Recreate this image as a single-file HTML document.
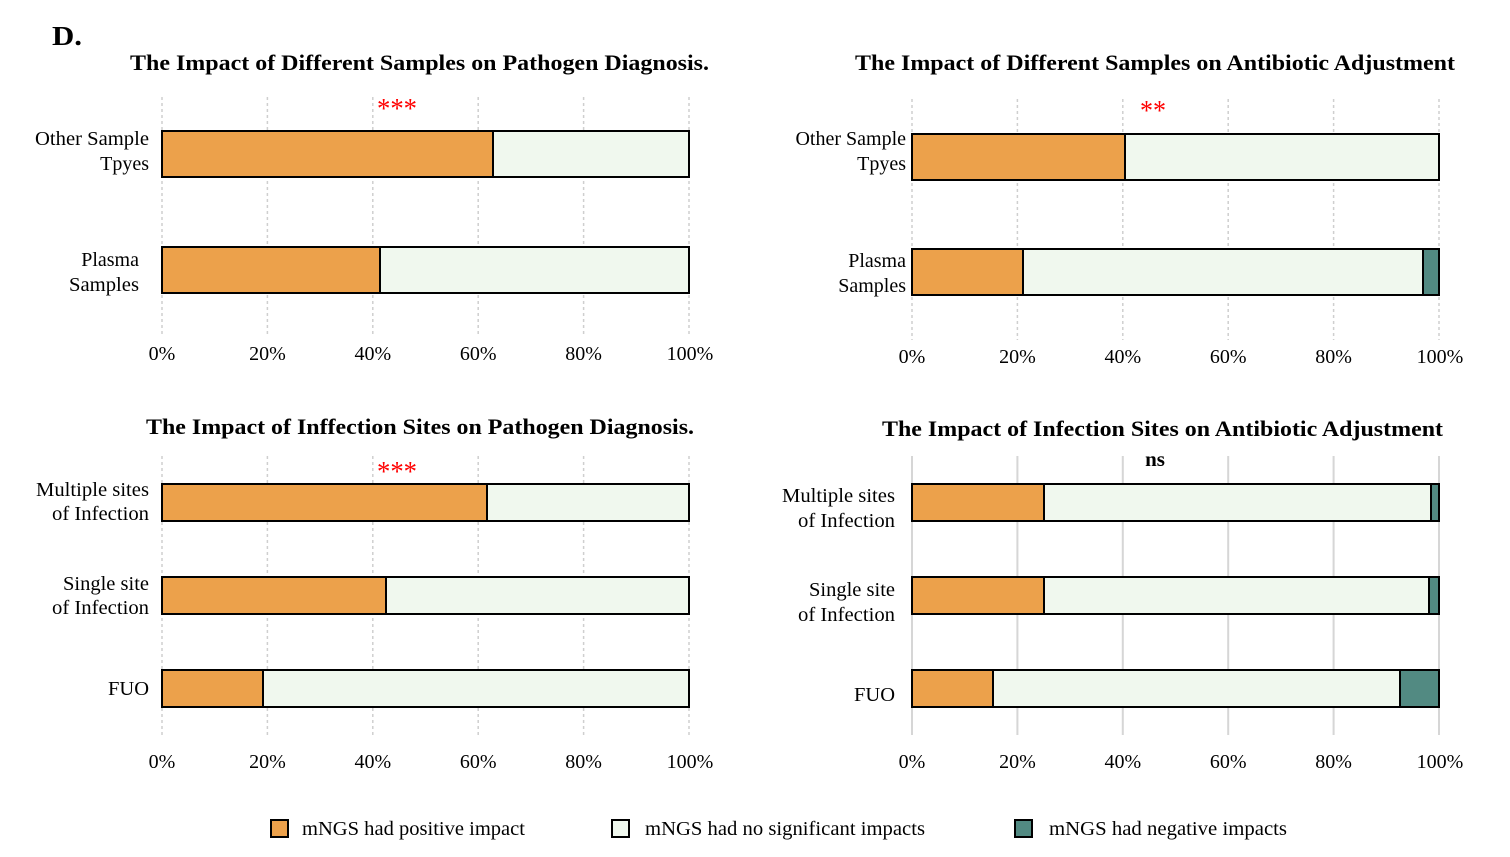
<!DOCTYPE html>
<html><head><meta charset="utf-8"><style>
html,body{margin:0;padding:0;background:#fff;}
svg{display:block;font-family:"Liberation Serif",serif;}
</style></head><body>
<svg width="1510" height="857" viewBox="0 0 1510 857" xmlns="http://www.w3.org/2000/svg">
<rect width="1510" height="857" fill="#fff"/>
<text x="52" y="45" font-size="27" font-weight="bold" textLength="30" lengthAdjust="spacingAndGlyphs">D.</text>

<!-- Panel 1 -->
<text x="130" y="70" font-size="22" font-weight="bold" textLength="579" lengthAdjust="spacingAndGlyphs">The Impact of Different Samples on Pathogen Diagnosis.</text>
<g stroke="#cfcfcf" stroke-width="1.5" stroke-dasharray="3,3">
<line x1="162" y1="97" x2="162" y2="335"/><line x1="267.4" y1="97" x2="267.4" y2="335"/><line x1="372.8" y1="97" x2="372.8" y2="335"/><line x1="478.2" y1="97" x2="478.2" y2="335"/><line x1="583.6" y1="97" x2="583.6" y2="335"/><line x1="689" y1="97" x2="689" y2="335"/>
</g>
<text x="397" y="118" font-size="28" fill="#ff0000" text-anchor="middle" textLength="40" lengthAdjust="spacingAndGlyphs">***</text>
<g stroke="#000" stroke-width="2">
<rect x="162" y="131" width="331" height="46" fill="#eca14b"/><rect x="493" y="131" width="196" height="46" fill="#f0f8ee"/>
<rect x="162" y="247" width="218" height="46" fill="#eca14b"/><rect x="380" y="247" width="309" height="46" fill="#f0f8ee"/>
</g>
<g font-size="20" text-anchor="end">
<text x="149" y="145" textLength="114" lengthAdjust="spacingAndGlyphs">Other Sample</text>
<text x="149" y="170">Tpyes</text>
<text x="139" y="266">Plasma</text>
<text x="139" y="291" textLength="70" lengthAdjust="spacingAndGlyphs">Samples</text>
</g>
<g font-size="20" text-anchor="middle">
<text x="162" y="360">0%</text><text x="267.4" y="360">20%</text><text x="372.8" y="360">40%</text><text x="478.2" y="360">60%</text><text x="583.6" y="360">80%</text><text x="690" y="360">100%</text>
</g>

<!-- Panel 2 -->
<text x="855" y="70" font-size="22" font-weight="bold" textLength="600" lengthAdjust="spacingAndGlyphs">The Impact of Different Samples on Antibiotic Adjustment</text>
<g stroke="#cfcfcf" stroke-width="1.5" stroke-dasharray="3,3">
<line x1="912" y1="99" x2="912" y2="340"/><line x1="1017.4" y1="99" x2="1017.4" y2="340"/><line x1="1122.8" y1="99" x2="1122.8" y2="340"/><line x1="1228.2" y1="99" x2="1228.2" y2="340"/><line x1="1333.6" y1="99" x2="1333.6" y2="340"/><line x1="1439" y1="99" x2="1439" y2="340"/>
</g>
<text x="1153" y="120" font-size="28" fill="#ff0000" text-anchor="middle" textLength="26" lengthAdjust="spacingAndGlyphs">**</text>
<g stroke="#000" stroke-width="2">
<rect x="912" y="134" width="213" height="46" fill="#eca14b"/><rect x="1125" y="134" width="314" height="46" fill="#f0f8ee"/>
<rect x="912" y="249" width="111" height="46" fill="#eca14b"/><rect x="1023" y="249" width="400" height="46" fill="#f0f8ee"/><rect x="1423" y="249" width="16" height="46" fill="#528a82"/>
</g>
<g font-size="20" text-anchor="end">
<text x="906" y="145">Other Sample</text>
<text x="906" y="170">Tpyes</text>
<text x="906" y="267">Plasma</text>
<text x="906" y="292">Samples</text>
</g>
<g font-size="20" text-anchor="middle">
<text x="912" y="363">0%</text><text x="1017.4" y="363">20%</text><text x="1122.8" y="363">40%</text><text x="1228.2" y="363">60%</text><text x="1333.6" y="363">80%</text><text x="1440" y="363">100%</text>
</g>

<!-- Panel 3 -->
<text x="146" y="434" font-size="22" font-weight="bold" textLength="548" lengthAdjust="spacingAndGlyphs">The Impact of Inffection Sites on Pathogen Diagnosis.</text>
<g stroke="#cfcfcf" stroke-width="1.5" stroke-dasharray="3,3">
<line x1="162" y1="456" x2="162" y2="735"/><line x1="267.4" y1="456" x2="267.4" y2="735"/><line x1="372.8" y1="456" x2="372.8" y2="735"/><line x1="478.2" y1="456" x2="478.2" y2="735"/><line x1="583.6" y1="456" x2="583.6" y2="735"/><line x1="689" y1="456" x2="689" y2="735"/>
</g>
<text x="397" y="481" font-size="28" fill="#ff0000" text-anchor="middle" textLength="40" lengthAdjust="spacingAndGlyphs">***</text>
<g stroke="#000" stroke-width="2">
<rect x="162" y="484" width="325" height="37" fill="#eca14b"/><rect x="487" y="484" width="202" height="37" fill="#f0f8ee"/>
<rect x="162" y="577" width="224" height="37" fill="#eca14b"/><rect x="386" y="577" width="303" height="37" fill="#f0f8ee"/>
<rect x="162" y="670" width="101" height="37" fill="#eca14b"/><rect x="263" y="670" width="426" height="37" fill="#f0f8ee"/>
</g>
<g font-size="20" text-anchor="end">
<text x="149" y="496" textLength="113" lengthAdjust="spacingAndGlyphs">Multiple sites</text>
<text x="149" y="520" textLength="97" lengthAdjust="spacingAndGlyphs">of Infection</text>
<text x="149" y="590" textLength="86" lengthAdjust="spacingAndGlyphs">Single site</text>
<text x="149" y="614" textLength="97" lengthAdjust="spacingAndGlyphs">of Infection</text>
<text x="149" y="695" textLength="41" lengthAdjust="spacingAndGlyphs">FUO</text>
</g>
<g font-size="20" text-anchor="middle">
<text x="162" y="768">0%</text><text x="267.4" y="768">20%</text><text x="372.8" y="768">40%</text><text x="478.2" y="768">60%</text><text x="583.6" y="768">80%</text><text x="690" y="768">100%</text>
</g>

<!-- Panel 4 -->
<text x="882" y="436" font-size="22" font-weight="bold" textLength="561" lengthAdjust="spacingAndGlyphs">The Impact of Infection Sites on Antibiotic Adjustment</text>
<g stroke="#d6d6d6" stroke-width="2">
<line x1="912" y1="456" x2="912" y2="735"/><line x1="1017.4" y1="456" x2="1017.4" y2="735"/><line x1="1122.8" y1="456" x2="1122.8" y2="735"/><line x1="1228.2" y1="456" x2="1228.2" y2="735"/><line x1="1333.6" y1="456" x2="1333.6" y2="735"/><line x1="1439" y1="456" x2="1439" y2="735"/>
</g>
<rect x="1138" y="448" width="34" height="22" fill="#fff"/>
<text x="1155" y="466" font-size="21" font-weight="bold" text-anchor="middle">ns</text>
<g stroke="#000" stroke-width="2">
<rect x="912" y="484" width="132" height="37" fill="#eca14b"/><rect x="1044" y="484" width="387" height="37" fill="#f0f8ee"/><rect x="1431" y="484" width="8" height="37" fill="#528a82"/>
<rect x="912" y="577" width="132" height="37" fill="#eca14b"/><rect x="1044" y="577" width="385" height="37" fill="#f0f8ee"/><rect x="1429" y="577" width="10" height="37" fill="#528a82"/>
<rect x="912" y="670" width="81" height="37" fill="#eca14b"/><rect x="993" y="670" width="407" height="37" fill="#f0f8ee"/><rect x="1400" y="670" width="39" height="37" fill="#528a82"/>
</g>
<g font-size="20" text-anchor="end">
<text x="895" y="502" textLength="113" lengthAdjust="spacingAndGlyphs">Multiple sites</text>
<text x="895" y="527" textLength="97" lengthAdjust="spacingAndGlyphs">of Infection</text>
<text x="895" y="596" textLength="86" lengthAdjust="spacingAndGlyphs">Single site</text>
<text x="895" y="621" textLength="97" lengthAdjust="spacingAndGlyphs">of Infection</text>
<text x="895" y="701" textLength="41" lengthAdjust="spacingAndGlyphs">FUO</text>
</g>
<g font-size="20" text-anchor="middle">
<text x="912" y="768">0%</text><text x="1017.4" y="768">20%</text><text x="1122.8" y="768">40%</text><text x="1228.2" y="768">60%</text><text x="1333.6" y="768">80%</text><text x="1440" y="768">100%</text>
</g>

<!-- Legend -->
<g stroke="#000" stroke-width="2">
<rect x="271" y="820" width="17" height="17" fill="#eca14b"/>
<rect x="612" y="820" width="17" height="17" fill="#f0f8ee"/>
<rect x="1015" y="820" width="17" height="17" fill="#528a82"/>
</g>
<g font-size="20">
<text x="302" y="835" textLength="223" lengthAdjust="spacingAndGlyphs">mNGS had positive impact</text>
<text x="645" y="835" textLength="280" lengthAdjust="spacingAndGlyphs">mNGS had no significant impacts</text>
<text x="1049" y="835" textLength="238" lengthAdjust="spacingAndGlyphs">mNGS had negative impacts</text>
</g>
</svg>
</body></html>
